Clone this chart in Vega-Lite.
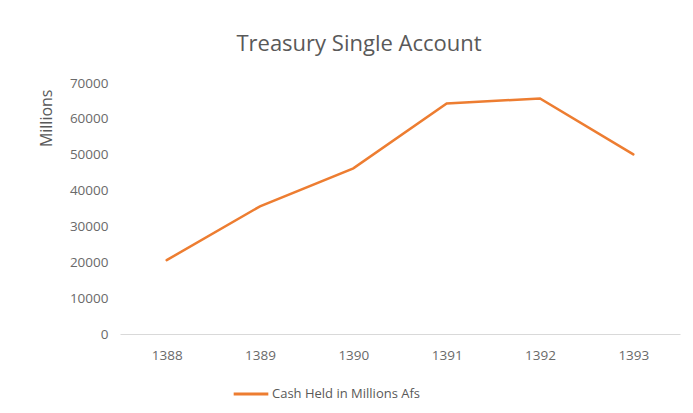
{
  "$schema": "https://vega.github.io/schema/vega-lite/v6.json",
  "width": 560,
  "height": 251,
  "autosize": {"type": "none"},
  "padding": {"left": 120, "top": 83, "right": 13, "bottom": 79},
  "background": "white",
  "config": {
    "view": {"stroke": null},
    "font": "Open Sans",
    "title": {"fontWeight": "normal"}
  },
  "title": {
    "text": "Treasury Single Account",
    "fontSize": 22,
    "color": "#595959",
    "font": "Open Sans",
    "anchor": "middle",
    "dx": -41,
    "offset": 20
  },
  "data": {
    "values": [
      {"year": "1388", "cash": 20600, "series": "Cash Held in Millions Afs"},
      {"year": "1389", "cash": 35600, "series": "Cash Held in Millions Afs"},
      {"year": "1390", "cash": 46200, "series": "Cash Held in Millions Afs"},
      {"year": "1391", "cash": 64300, "series": "Cash Held in Millions Afs"},
      {"year": "1392", "cash": 65700, "series": "Cash Held in Millions Afs"},
      {"year": "1393", "cash": 50100, "series": "Cash Held in Millions Afs"}
    ]
  },
  "mark": {"type": "line", "strokeWidth": 2.5, "strokeCap": "round"},
  "encoding": {
    "x": {
      "field": "year",
      "type": "ordinal",
      "scale": {"type": "point", "padding": 0.5},
      "axis": {
        "title": null,
        "labelAngle": 0,
        "labelColor": "#6a6a6a",
        "labelFontSize": 13.5,
        "labelPadding": 14,
        "ticks": false,
        "domainColor": "#d9d9d9",
        "domainWidth": 1,
        "grid": false
      }
    },
    "y": {
      "field": "cash",
      "type": "quantitative",
      "scale": {"domain": [0, 70000], "nice": false},
      "axis": {
        "title": "Millions",
        "titleColor": "#595959",
        "titleFontSize": 16,
        "titleFontWeight": "normal",
        "titleAnchor": "end",
        "titleY": 6,
        "titlePadding": 15,
        "values": [0, 10000, 20000, 30000, 40000, 50000, 60000, 70000],
        "format": "d",
        "labelColor": "#6a6a6a",
        "labelFontSize": 13.5,
        "labelPadding": 12,
        "ticks": false,
        "domain": false,
        "grid": false
      }
    },
    "color": {
      "field": "series",
      "type": "nominal",
      "scale": {"range": ["#ED7D31"]},
      "legend": {
        "title": null,
        "orient": "none",
        "legendX": 112,
        "legendY": 292,
        "symbolType": "stroke",
        "symbolSize": 1200,
        "symbolStrokeWidth": 3,
        "labelColor": "#595959",
        "labelFontSize": 13,
        "labelOffset": 2
      }
    }
  }
}
